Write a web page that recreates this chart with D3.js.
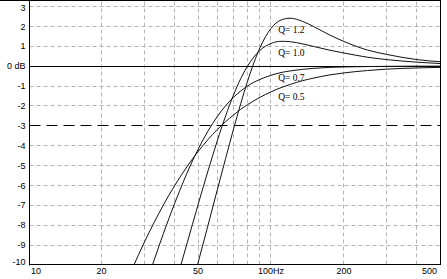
<!DOCTYPE html>
<html><head><meta charset="utf-8">
<script src="https://cdn.jsdelivr.net/npm/d3@7"></script>
<style>html,body{margin:0;padding:0;background:#fff;overflow:hidden}</style>
</head><body><svg id="c" width="447" height="279"></svg>
<script>
// ---- data ----
const freqs = [25, 27, 30, 33, 36, 40, 42, 45, 50, 55, 60, 65, 70, 75, 80, 85, 90, 100, 110, 120, 135, 150, 175, 200, 250, 300, 400, 500];
const q12 = [-23.0, -21.7, -19.66, -17.89, -16.26, -14.26, -13.32, -11.98, -9.9, -8.0, -6.24, -4.64, -3.18, -1.89, -0.77, 0.17, 0.92, 1.9, 2.32, 2.41, 2.25, 1.99, 1.56, 1.24, 0.81, 0.59, 0.33, 0.22];
const q10 = [-19.8, -18.41, -16.48, -14.72, -13.11, -11.14, -10.22, -8.94, -6.98, -5.26, -3.77, -2.5, -1.46, -0.63, 0.0, 0.46, 0.79, 1.14, 1.25, 1.23, 1.12, 0.99, 0.8, 0.66, 0.45, 0.33, 0.2, 0.13];
const q07 = [-14.21, -12.94, -11.23, -9.74, -8.42, -6.92, -6.27, -5.39, -4.19, -3.26, -2.54, -1.99, -1.57, -1.25, -1.0, -0.81, -0.67, -0.46, -0.32, -0.24, -0.16, -0.11, -0.06, -0.04, -0.02, -0.01, 0.0, 0.0];
const q05 = [-11.03, -10.09, -8.87, -7.85, -6.98, -6.02, -5.61, -5.06, -4.3, -3.69, -3.19, -2.79, -2.46, -2.17, -1.94, -1.74, -1.57, -1.29, -1.08, -0.92, -0.73, -0.6, -0.44, -0.34, -0.22, -0.15, -0.09, -0.06];
const seriesNames = ["Q= 1.2", "Q= 1.0", "Q= 0.7", "Q= 0.5"];
const labelFreq = [107, 107, 107, 107];
const labelDb = [1.84, 0.68, -0.6, -1.54];
const xTickValues = [10, 20, 50, 100, 200, 500];
const xTickLabels = ["10", "20", "50", "100Hz", "200", "500"];
const xGridValues = [20, 30, 40, 50, 60, 70, 80, 90, 100, 200, 300, 400];
const yTickValues = [3, 2, 1, 0, -1, -2, -3, -4, -5, -6, -7, -8, -9, -10];
const yTickLabels = ["3", "2", "1", "0 dB", "-1", "-2", "-3", "-4", "-5", "-6", "-7", "-8", "-9", "-10"];

const series = [q12, q10, q07, q05];

// ---- layout ----
const svg = d3.select("#c");
const x = d3.scaleLog().domain([10, 500]).range([28.5, 440.5]);
const y = d3.scaleLinear().domain([-10, 3]).range([265, 6.5]);
const L = 29.5, R = 440.5, T = 0.5, B = 264.5;
const px = v => Math.round(v - 0.5) + 0.5;

svg.append("rect").attr("width", 447).attr("height", 279).attr("fill", "#fff");

svg.append("clipPath").attr("id", "clip").append("rect")
  .attr("x", L).attr("y", T).attr("width", R - L).attr("height", B - T);

const grid = svg.append("g");
grid.selectAll("line.v").data(xGridValues).enter().append("line")
  .attr("x1", d => px(x(d))).attr("x2", d => px(x(d)))
  .attr("y1", T + 1).attr("y2", B)
  .attr("stroke", "#b4b4b4").attr("stroke-dasharray", "4,3").attr("stroke-width", 1);
grid.selectAll("line.h").data(yTickValues.filter(v => v !== 0 && v !== -3 && v !== -10)).enter().append("line")
  .attr("x1", L).attr("x2", R)
  .attr("y1", d => px(y(d))).attr("y2", d => px(y(d)))
  .attr("stroke", "#b4b4b4").attr("stroke-dasharray", "4,3").attr("stroke-width", 1);

// -3 dB reference (long dash) and 0 dB line
svg.append("line").attr("x1", L).attr("x2", R).attr("y1", px(y(-3))).attr("y2", px(y(-3)))
  .attr("stroke", "#000").attr("stroke-dasharray", "11,6");
svg.append("line").attr("x1", L).attr("x2", R).attr("y1", px(y(0))).attr("y2", px(y(0)))
  .attr("stroke", "#000");

// curves
const line = d3.line().x((d, i) => x(freqs[i])).y(d => y(d)).curve(d3.curveMonotoneX);
const curves = svg.append("g").attr("clip-path", "url(#clip)");
series.forEach(s => {
  curves.append("path").attr("d", line(s)).attr("fill", "none")
    .attr("stroke", "#111").attr("stroke-width", 1);
});

// frame
svg.append("line").attr("x1", 0).attr("x2", R + 0.5).attr("y1", T).attr("y2", T).attr("stroke", "#000");
svg.append("line").attr("x1", R).attr("x2", R).attr("y1", 0).attr("y2", B).attr("stroke", "#000");
svg.append("line").attr("x1", L).attr("x2", L).attr("y1", 0).attr("y2", B + 1).attr("stroke", "#000");
svg.append("line").attr("x1", L - 0.5).attr("x2", R + 0.5).attr("y1", B).attr("y2", B).attr("stroke", "#000");

// y tick labels
const fontSans = "Liberation Sans, Arial, sans-serif";
svg.append("g").selectAll("text").data(yTickValues).enter().append("text")
  .attr("x", 25.5)
  .attr("y", (d, i) => {
    let yy = y(d);
    if (d === 3) yy += 1.5;
    if (d === -10) yy -= 3;
    return yy;
  })
  .attr("dy", "0.35em")
  .attr("text-anchor", "end")
  .attr("font-family", fontSans).attr("font-size", 9).attr("fill", "#000")
  .text((d, i) => yTickLabels[i]);

// x tick labels
svg.append("g").selectAll("text").data(xTickValues).enter().append("text")
  .attr("x", (d, i) => {
    if (i === 0) return x(d) + 2.5;
    if (i === xTickValues.length - 1) return x(d) - 3.5;
    return x(d);
  })
  .attr("y", 273.5)
  .attr("text-anchor", (d, i) => i === 0 ? "start" : (i === xTickValues.length - 1 ? "end" : "middle"))
  .attr("font-family", fontSans).attr("font-size", 9).attr("fill", "#000")
  .text((d, i) => xTickLabels[i]);

// series labels
svg.append("g").selectAll("text").data(seriesNames).enter().append("text")
  .attr("x", (d, i) => x(labelFreq[i]))
  .attr("y", (d, i) => y(labelDb[i]))
  .attr("dy", "0.35em")
  .attr("font-family", "Liberation Serif, Times New Roman, serif").attr("font-size", 9.5).attr("fill", "#000")
  .text(d => d);
</script>
</body></html>
